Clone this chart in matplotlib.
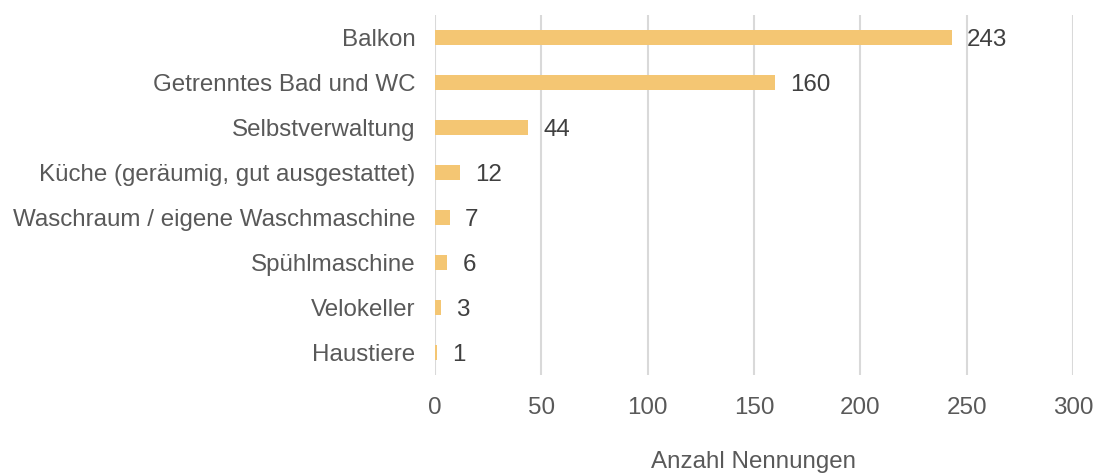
import matplotlib.pyplot as plt

plt.rcParams['font.family'] = ['Liberation Sans', 'DejaVu Sans']

kategorien = ['Balkon', 'Getrenntes Bad und WC', 'Selbstverwaltung',
              'Küche (geräumig, gut ausgestattet)', 'Waschraum / eigene Waschmaschine',
              'Spühlmaschine', 'Velokeller', 'Haustiere']
nennungen = [243, 160, 44, 12, 7, 6, 3, 1]
xticks = [0, 50, 100, 150, 200, 250, 300]

fig = plt.figure(figsize=(10.95, 4.74), dpi=100)
ax = fig.add_axes([0.397, 0.209, 0.583, 0.759])

y = list(range(len(kategorien)))
ax.barh(y, nennungen, height=0.33, color='#F4C673', zorder=3)
for yi, v in zip(y, nennungen):
    ax.text(v + 7, yi + 0.05, str(v), va='center', ha='left', fontsize=17.4, color='#404040')

ax.set_yticks(y)
ax.set_yticklabels(kategorien, fontsize=17.4, color='#595959')
ax.set_ylim(len(kategorien) - 0.5, -0.5)
ax.set_xlim(0, 300)
ax.set_xticks(xticks)
ax.set_xticklabels([str(t) for t in xticks], fontsize=17.4, color='#595959')
ax.tick_params(axis='x', length=0, pad=16)
ax.tick_params(axis='y', length=0, pad=14)
ax.grid(axis='x', color='#d9d9d9', linewidth=1.5, zorder=0)
for s in ax.spines.values():
    s.set_visible(False)
ax.set_xlabel('Anzahl Nennungen', fontsize=17.4, color='#595959', labelpad=23)

plt.savefig('out.png', dpi=100)
